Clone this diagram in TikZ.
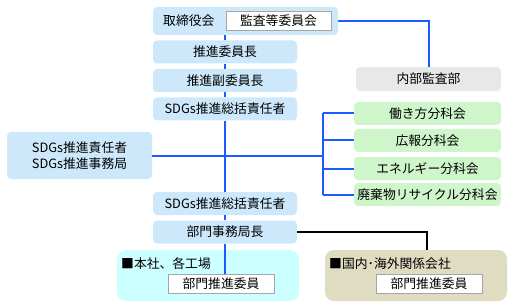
\documentclass[tikz,border=0pt]{standalone}
\usepackage{fontspec}
\setmainfont{Noto Sans CJK JP}
\usepackage{xcolor}
\definecolor{postBack}  {HTML}{CCE8FA}
\definecolor{groupBack} {HTML}{CFF5CA}
\definecolor{auditBack} {HTML}{E8E8E8}
\definecolor{hqBack}    {HTML}{CCFFFF}
\definecolor{coBack}    {HTML}{E0DCC2}
\definecolor{lineBlue}  {HTML}{1A5CFF}
\tikzset{
    post/.style={rectangle, rounded corners=4pt, fill=postBack, inner sep=0pt,
                 minimum width=144pt, minimum height=23pt},
    wgroup/.style={post, fill=groupBack, minimum width=147pt},
    auditbox/.style={post, fill=auditBack, minimum width=145pt, minimum height=24pt},
    seat/.style={rectangle, draw=black!35, fill=white, inner sep=0pt,
                 minimum width=106pt, minimum height=19pt},
    area/.style={rectangle, rounded corners=9pt, inner sep=0pt,
                 minimum width=182pt, minimum height=51pt},
    tag/.style={anchor=west, inner sep=0pt},
    bline/.style={line width=2pt, lineBlue},
    kline/.style={line width=2pt, black},
}

\begin{document}
\begin{tikzpicture}[x=1pt, y=-1pt, font=\fontsize{12.8}{15.5}\selectfont]
    \useasboundingbox (0,0) rectangle (513,307);
    % board and audit
    \node[post, minimum width=185pt, minimum height=28pt] (board) at (245.5,21) {};
    \node[tag] at (163,21) {取締役会};
    \node[seat, minimum width=105pt] (cmte) at (278.5,21) {監査等委員会};
    \node[auditbox] (audit) at (428.5,79) {内部監査部};
    % centre column
    \node[post] (chair) at (225,52) {推進委員長};
    \node[post] (vice) at (225,80.5) {推進副委員長};
    \node[post] (gen) at (225,109) {SDGs推進総括責任者};
    \node[post, minimum width=145pt, minimum height=47pt, align=center]
        (sdgs) at (79.5,155.5) {SDGs推進責任者\\SDGs推進事務局};
    \node[post] (gen2) at (225,203.5) {SDGs推進総括責任者};
    \node[post] (office) at (225,232) {部門事務局長};
    % working groups
    \node[wgroup] (work) at (427.5,113.5) {働き方分科会};
    \node[wgroup] (pr) at (427.5,140.5) {広報分科会};
    \node[wgroup] (energy) at (427.5,168.5) {エネルギー分科会};
    \node[wgroup] (waste) at (427.5,194.5) {廃棄物リサイクル分科会};
    % areas
    \node[area, fill=hqBack] (hq) at (208,275.5) {};
    \node[tag] at (121,264) {■本社、各工場};
    \node[seat] (hqseat) at (221,283.5) {部門推進委員};
    \node[area, fill=coBack] (co) at (416,275.5) {};
    \node[tag] at (329,264) {■国内･海外関係会社};
    \node[seat] (coseat) at (429,283.5) {部門推進委員};
    \coordinate (fork) at (323,155.5);
    \coordinate (drop) at (427,250);

    \draw[bline] (board.east) -| (audit.north);
    \draw[bline] (board.south -| chair) -- (chair.north);
    \draw[bline] (chair) -- (vice);
    \draw[bline] (vice) -- (gen);
    \draw[bline] (gen) -- (gen2);
    \draw[bline] (gen2) -- (office);
    \draw[bline] (office.south) -- (office.south |- hqseat.north);
    \draw[bline] (sdgs.east) -- (fork);
    \draw[bline] (fork |- work.west) -- (fork |- waste.west);
    \foreach \g in {work, pr, energy, waste}
        \draw[bline] (fork |- \g.west) -- (\g.west);
    \draw[kline] (office.east) -| (drop);
\end{tikzpicture}
\end{document}
